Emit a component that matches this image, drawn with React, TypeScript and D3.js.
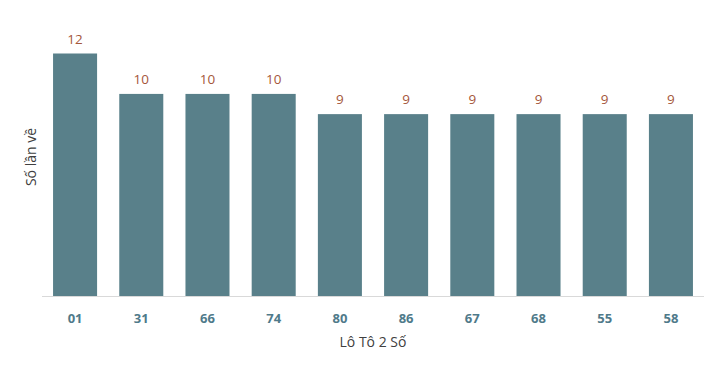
import React from "react";
import * as d3 from "d3";

const categories = ["01", "31", "66", "74", "80", "86", "67", "68", "55", "58"];
const values = [12, 10, 10, 10, 9, 9, 9, 9, 9, 9];
const xTitle = "Lô Tô 2 Số";
const yTitle = "Số lần về";

export default function App() {
  const W = 717, H = 370;
  const x = d3.scaleBand().domain(categories).range([42, 704]).paddingInner(0.335).paddingOuter(0.167);
  const y = d3.scaleLinear().domain([0, 12]).range([296, 53.5]);
  const font = "'Open Sans', sans-serif";
  return (
    <svg width={W} height={H} style={{ position: "absolute", left: 0, top: 0, background: "#fff" }}>
      {categories.map((c, i) => (
        <g key={c}>
          <rect x={x(c)} y={y(values[i])} width={x.bandwidth()} height={y(0) - y(values[i])} fill="#59808a" />
          <text x={x(c)! + x.bandwidth() / 2} y={y(values[i]) - 10} textAnchor="middle" fontFamily={font} fontSize={13.5} fill="#a5573b">{values[i]}</text>
          <text x={x(c)! + x.bandwidth() / 2} y={323} textAnchor="middle" fontFamily={font} fontSize={13} fontWeight="bold" fill="#4f7a8a">{c}</text>
        </g>
      ))}
      <line x1={42} x2={704} y1={296.5} y2={296.5} stroke="#d9d9d9" strokeWidth={1} />
      <text x={373} y={347} textAnchor="middle" fontFamily={font} fontSize={14} fill="#404040">{xTitle}</text>
      <text transform={`translate(36,${157}) rotate(-90)`} textAnchor="middle" fontFamily={font} fontSize={14} fill="#404040">{yTitle}</text>
    </svg>
  );
}
